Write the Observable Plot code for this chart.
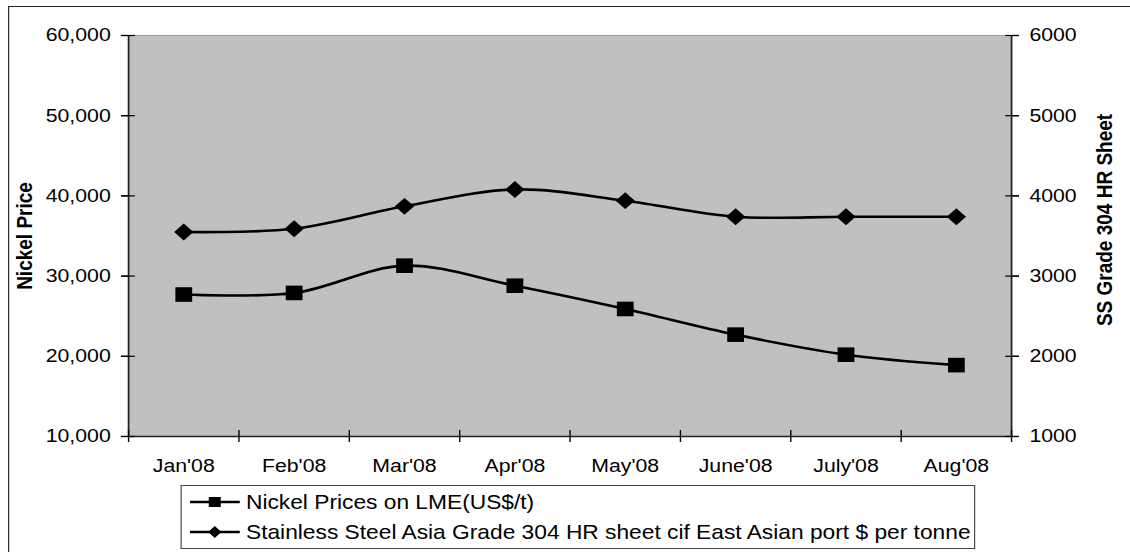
<!DOCTYPE html>
<html><head><meta charset="utf-8">
<script src="https://cdn.jsdelivr.net/npm/d3@7"></script>
<script src="https://cdn.jsdelivr.net/npm/@observablehq/plot@0.6"></script>
<style>
html,body{margin:0;padding:0;background:#fff;overflow:hidden;width:1130px;height:552px;}
#wrap{position:absolute;left:0;top:0;width:982.6px;height:552px;transform:scaleX(1.15);transform-origin:0 0;font-family:"Liberation Sans",Arial,sans-serif;}
#outer{position:absolute;left:7px;top:6px;width:2000px;height:2000px;border:1px solid #222;box-sizing:border-box;}
#chart{position:absolute;left:0;top:0;}
#legend{position:absolute;left:157.4px;top:485px;width:691px;height:64px;border:1px solid #444;box-sizing:border-box;background:#fff;padding-top:1px;}
.row{height:30px;display:flex;align-items:center;font-size:19.8px;color:#000;white-space:nowrap;}
.row svg{margin-left:6.8px;margin-right:5.2px;flex:none;}
</style></head>
<body>
<div id="wrap">
  <div id="outer"></div>
  <div id="chart"></div>
  <div id="legend"></div>
</div>
<script>
// ---- data ----
const months = ["Jan'08","Feb'08","Mar'08","Apr'08","May'08","June'08","July'08","Aug'08"];
const nickel = [27700, 27900, 31300, 28800, 25900, 22700, 20200, 18900];
const steel  = [3550, 3590, 3870, 4080, 3940, 3740, 3740, 3740];
const leftTicks  = [10000, 20000, 30000, 40000, 50000, 60000];
const rightTicks = [1000, 2000, 3000, 4000, 5000, 6000];
const seriesNames = ["Nickel Prices on LME(US$/t)", "Stainless Steel Asia Grade 304 HR sheet cif East Asian port $ per tonne"];
const axisTitles = ["Nickel Price", "SS Grade 304 HR Sheet"];

// ---- derived ----
const leftDomain = [leftTicks[0], leftTicks[leftTicks.length - 1]];
const rightDomain = [rightTicks[0], rightTicks[rightTicks.length - 1]];
const toLeft = d3.scaleLinear().domain(rightDomain).range(leftDomain);
const xDomain = [-0.5, months.length - 0.5];
const idx = d3.range(months.length);
const bounds = d3.range(months.length + 1).map(i => i - 0.5);
const nickelData = idx.map(i => ({i, v: nickel[i]}));
const steelData = idx.map(i => ({i, v: toLeft(steel[i])}));

const S = 1.15;
const W = 1130 / S;
const ML = 128 / S;
const MR = W - 1011 / S;

const squareSym = {draw(ctx, size) { const r = Math.sqrt(size / Math.PI); ctx.rect(-r, -r, 2 * r, 2 * r); }};
const diamondSym = {draw(ctx, size) { const r = Math.sqrt(size / Math.PI); ctx.moveTo(0, -r); ctx.lineTo(r, 0); ctx.lineTo(0, r); ctx.lineTo(-r, 0); ctx.closePath(); }};

const chart = Plot.plot({
  width: W, height: 480,
  marginLeft: ML, marginRight: MR, marginTop: 35, marginBottom: 44,
  style: {fontFamily: "'Liberation Sans', Arial, sans-serif", fontSize: "18.5px", color: "#000", background: "transparent", overflow: "visible"},
  x: {domain: xDomain, axis: null},
  y: {domain: leftDomain, axis: null},
  marks: [
    Plot.frame({fill: "#c0c0c0", stroke: "#9a9a9a"}),
    Plot.ruleX(xDomain, {stroke: "#222", strokeWidth: 1.5}),
    Plot.ruleY([leftDomain[0]], {stroke: "#222", strokeWidth: 1.5}),
    // left axis
    Plot.axisY(leftTicks, {anchor: "left", tickSize: 12, dx: 6, fill: "none", stroke: "#000", strokeWidth: 1.2, label: null}),
    Plot.axisY(leftTicks, {anchor: "left", tickSize: 6, tickPadding: 9.5, tickFormat: d3.format(","), stroke: "#000", strokeWidth: 1.2, fill: "#000", fontSize: 18.5, label: null}),
    // right axis
    Plot.axisY(rightTicks.map(toLeft), {anchor: "right", tickSize: 12, dx: -6, fill: "none", stroke: "#000", strokeWidth: 1.2, label: null}),
    Plot.axisY(rightTicks.map(toLeft), {anchor: "right", tickSize: 6, tickPadding: 9.5, tickFormat: d => String(Math.round(toLeft.invert(d))), stroke: "#000", strokeWidth: 1.2, fill: "#000", fontSize: 18.5, label: null}),
    // x axis
    Plot.axisX(bounds, {anchor: "bottom", tickSize: 12, dy: -6, fill: "none", stroke: "#000", strokeWidth: 1.2, label: null}),
    Plot.axisX(idx, {anchor: "bottom", tickSize: 0, tickPadding: 22, tickFormat: i => months[i], fill: "#000", fontSize: 18.5, label: null}),
    // titles
    Plot.text([axisTitles[0]], {frameAnchor: "left", textAnchor: "middle", rotate: -90, dx: -90, fontWeight: "bold", fontSize: 19, fill: "#000"}),
    Plot.text([axisTitles[1]], {frameAnchor: "right", textAnchor: "middle", rotate: -90, dx: 81, dy: -16, fontWeight: "bold", fontSize: 19, fill: "#000"}),
    // series
    Plot.line(nickelData, {x: "i", y: "v", curve: "catmull-rom", stroke: "#000", strokeWidth: 2.6}),
    Plot.dot(nickelData, {x: "i", y: "v", symbol: squareSym, r: 7.3, fill: "#000", stroke: "none"}),
    Plot.line(steelData, {x: "i", y: "v", curve: "catmull-rom", stroke: "#000", strokeWidth: 2.6}),
    Plot.dot(steelData, {x: "i", y: "v", symbol: diamondSym, r: 8.4, fill: "#000", stroke: "none"})
  ]
});
document.getElementById("chart").appendChild(chart);

// legend
const legend = d3.select("#legend");
const markerDraw = [
  g => g.append("rect").attr("x", 21.75 - 5.2).attr("y", 15 - 5).attr("width", 10.4).attr("height", 10).attr("fill", "#000"),
  g => g.append("path").attr("d", "M21.75,9L27.5,15L21.75,21L16,15Z").attr("fill", "#000")
];
seriesNames.forEach((name, k) => {
  const row = legend.append("div").attr("class", "row");
  const sw = row.append("svg").attr("width", 43.5).attr("height", 30);
  sw.append("line").attr("x1", 0).attr("x2", 43.5).attr("y1", 15).attr("y2", 15).attr("stroke", "#000").attr("stroke-width", 2.6);
  markerDraw[k](sw);
  row.append("span").text(name);
});
</script>
</body></html>
